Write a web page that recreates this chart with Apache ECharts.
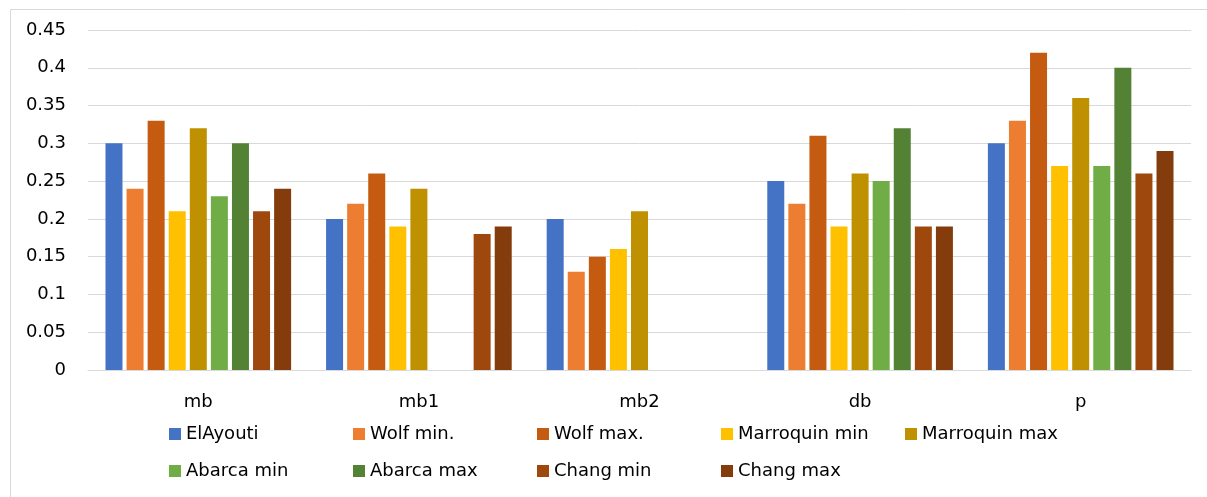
<!DOCTYPE html>
<html>
<head>
<meta charset="utf-8">
<script src="https://cdn.jsdelivr.net/npm/echarts@6/dist/echarts.min.js"></script>
<style>
  html, body { margin: 0; padding: 0; background: #fff; }
  #chart { width: 1207px; height: 497px; }
</style>
</head>
<body>
<div id="chart"></div>
<script>
// Categories and series values
const categories = ['mb', 'mb1', 'mb2', 'db', 'p'];
const seriesNames = ['ElAyouti', 'Wolf min.', 'Wolf max.', 'Marroquin min', 'Marroquin max',
                     'Abarca min', 'Abarca max', 'Chang min', 'Chang max'];
const elAyouti     = [0.30, 0.20, 0.20, 0.25, 0.30];
const wolfMin      = [0.24, 0.22, 0.13, 0.22, 0.33];
const wolfMax      = [0.33, 0.26, 0.15, 0.31, 0.42];
const marroquinMin = [0.21, 0.19, 0.16, 0.19, 0.27];
const marroquinMax = [0.32, 0.24, 0.21, 0.26, 0.36];
const abarcaMin    = [0.23, null, null, 0.25, 0.27];
const abarcaMax    = [0.30, null, null, 0.32, 0.40];
const changMin     = [0.21, 0.18, null, 0.19, 0.26];
const changMax     = [0.24, 0.19, null, 0.19, 0.29];
const yTicks = ['0', '0.05', '0.1', '0.15', '0.2', '0.25', '0.3', '0.35', '0.4', '0.45'];

const values = [elAyouti, wolfMin, wolfMax, marroquinMin, marroquinMax,
                abarcaMin, abarcaMax, changMin, changMax];
const colors = ['#4472C4', '#ED7D31', '#C55A11', '#FFC000', '#BF9000',
                '#70AD47', '#548235', '#9E480E', '#843C0C'];

const font = '"DejaVu Sans", sans-serif';
const legendBase = {
  left: 164,
  orient: 'horizontal',
  itemWidth: 12,
  itemHeight: 12,
  itemGap: 11,
  icon: 'rect',
  selectedMode: false,
  textStyle: { fontFamily: font, fontSize: 18, color: '#000', width: 156, height: 24, lineHeight: 24 }
};

const chart = echarts.init(document.getElementById('chart'), null, { renderer: 'canvas' });
chart.setOption({
  animation: false,
  backgroundColor: '#fff',
  color: colors,
  graphic: [{
    type: 'rect',
    shape: { x: 10.5, y: 9.5, width: 1220, height: 520 },
    style: { fill: 'none', stroke: '#d9d9d9', lineWidth: 1 },
    silent: true, z: -1
  }],
  grid: { left: 88, right: 16, top: 30, bottom: 127 },
  legend: [
    Object.assign({}, legendBase, { top: 417, data: seriesNames.slice(0, 5) }),
    Object.assign({}, legendBase, { top: 454, data: seriesNames.slice(5) })
  ],
  xAxis: {
    type: 'category',
    data: categories,
    axisLine: { lineStyle: { color: '#d9d9d9', width: 1 } },
    axisTick: { show: false },
    axisLabel: { fontFamily: font, fontSize: 18, color: '#000', margin: 23 }
  },
  yAxis: {
    type: 'value',
    min: 0, max: 0.45, interval: 0.05,
    axisLine: { show: false },
    axisTick: { show: false },
    splitLine: { lineStyle: { color: '#d9d9d9', width: 1 } },
    axisLabel: {
      fontFamily: font, fontSize: 18, color: '#000', margin: 22,
      formatter: function (v) { return yTicks[Math.round(v / 0.05)]; }
    }
  },
  series: seriesNames.map(function (name, i) {
    return {
      name: name,
      type: 'bar',
      data: values[i],
      barWidth: 17,
      barGap: '24%',
      itemStyle: { color: colors[i] }
    };
  })
});
</script>
</body>
</html>
